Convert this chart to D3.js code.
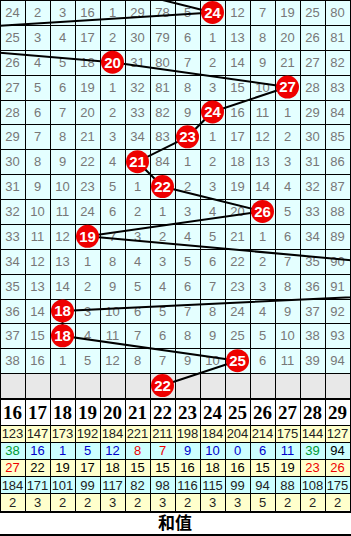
<!DOCTYPE html>
<html lang="zh">
  <head>
    <meta charset="utf-8"/>
    <script src="https://d3js.org/d3.v7.min.js"></script>
    <style>
      body { margin: 0; background: #fff; }
      .omit { fill: #777; font: 13px "Liberation Sans", sans-serif; text-anchor: middle; }
      .ball text { fill: #fff; font: bold 15px "Liberation Sans", sans-serif; text-anchor: middle; }
      .head { fill: #000; font: bold 19px "Liberation Serif", serif; text-anchor: middle; }
      .stat { font: 13px "Liberation Sans", sans-serif; text-anchor: middle; }
      .title { fill: #000; font: bold 17px "Noto Sans CJK SC", sans-serif; text-anchor: middle; }
    </style>
  </head>
  <body>
    <svg class="chart"></svg>
  </body>
  <script>
    // 和值 columns 16..29
    const sumValues = [16, 17, 18, 19, 20, 21, 22, 23, 24, 25, 26, 27, 28, 29];

    // sum of each period, top to bottom (the row above the picture and the gray row included)
    const prevSum = 20;
    const sums = [24, 8, 20, 27, 24, 23, 21, 22, 26, 19, 30, 39, 18, 18, 25];
    const nextSum = 22;

    // omission counts shown in the grid (0 = hit, drawn as a ball)
    const omissions = [
      [24, 2, 3, 16, 1, 29, 78, 5, 0, 12, 7, 19, 25, 80],
      [25, 3, 4, 17, 2, 30, 79, 6, 1, 13, 8, 20, 26, 81],
      [26, 4, 5, 18, 0, 31, 80, 7, 2, 14, 9, 21, 27, 82],
      [27, 5, 6, 19, 1, 32, 81, 8, 3, 15, 10, 0, 28, 83],
      [28, 6, 7, 20, 2, 33, 82, 9, 0, 16, 11, 1, 29, 84],
      [29, 7, 8, 21, 3, 34, 83, 0, 1, 17, 12, 2, 30, 85],
      [30, 8, 9, 22, 4, 0, 84, 1, 2, 18, 13, 3, 31, 86],
      [31, 9, 10, 23, 5, 1, 0, 2, 3, 19, 14, 4, 32, 87],
      [32, 10, 11, 24, 6, 2, 1, 3, 4, 20, 0, 5, 33, 88],
      [33, 11, 12, 0, 7, 3, 2, 4, 5, 21, 1, 6, 34, 89],
      [34, 12, 13, 1, 8, 4, 3, 5, 6, 22, 2, 7, 35, 90],
      [35, 13, 14, 2, 9, 5, 4, 6, 7, 23, 3, 8, 36, 91],
      [36, 14, 0, 3, 10, 6, 5, 7, 8, 24, 4, 9, 37, 92],
      [37, 15, 0, 4, 11, 7, 6, 8, 9, 25, 5, 10, 38, 93],
      [38, 16, 1, 5, 12, 8, 7, 9, 10, 0, 6, 11, 39, 94]
    ];

    // statistics rows under the header
    const appearCount = [123, 147, 173, 192, 184, 221, 211, 198, 184, 204, 214, 175, 144, 127];
    const currentOmit = [38, 16, 1, 5, 12, 8, 7, 9, 10, 0, 6, 11, 39, 94];
    const currentTone = ["cold", "warm", "warm", "warm", "warm", "hot", "hot", "warm", "warm", "warm", "warm", "warm", "cold", "none"];
    const avgOmit = [27, 22, 19, 17, 18, 15, 15, 16, 18, 16, 15, 19, 23, 26];
    const avgTone = ["hot", "none", "none", "none", "none", "none", "none", "none", "none", "none", "none", "none", "hot", "hot"];
    const maxOmit = [184, 171, 101, 99, 117, 82, 98, 116, 115, 99, 94, 88, 108, 175];
    const maxStreak = [2, 3, 2, 2, 3, 2, 3, 2, 3, 3, 5, 2, 2, 2];

    const width = 351, height = 536;
    const gridBottom = 398;
    const headTop = 400, headBottom = 425;
    const statH = 17.1;
    const statBottom = headBottom + statH * 5;

    const toneColor = { cold: "#009933", warm: "#0000cc", hot: "#ee0000", none: "#000" };

    const svg = d3.select(".chart")
      .attr("width", width)
      .attr("height", height);

    const x = d3.scaleBand()
      .domain(sumValues)
      .range([0, 350]);

    // rows: -1 .. 15, row 15 is the gray empty row
    const rowIds = d3.range(16);
    const y = d3.scaleBand()
      .domain(rowIds)
      .range([0, gridBottom]);
    const rowY = function(i) { return y.step() * i + y.step() / 2; };
    const colX = function(v) { return (v - sumValues[0]) * x.step() + x.step() / 2; };

    // cell backgrounds
    svg.append("g").selectAll("rect")
      .data(rowIds)
      .enter().append("rect")
        .attr("x", 0)
        .attr("y", function(d) { return y(d); })
        .attr("width", 350)
        .attr("height", y.step())
        .attr("fill", function(d) { return d < 15 ? "#e4ffff" : "#e8e8e8"; });

    // omission numbers
    const cells = [];
    omissions.forEach(function(row, r) {
      row.forEach(function(v, c) { if (v > 0) cells.push({ r: r, c: c, v: v }); });
    });
    svg.append("g").selectAll("text")
      .data(cells)
      .enter().append("text")
        .attr("class", "omit")
        .attr("x", function(d) { return x(sumValues[d.c]) + x.bandwidth() / 2; })
        .attr("y", function(d) { return rowY(d.r); })
        .attr("dy", ".36em")
        .text(function(d) { return d.v; });

    // header + stats backgrounds
    svg.append("rect")
      .attr("x", 0).attr("y", headTop)
      .attr("width", 350).attr("height", headBottom - headTop)
      .attr("fill", "#fff");

    const statRows = [
      { vals: appearCount, bg: "#ffffcc" },
      { vals: currentOmit, bg: "#ccffff", tone: currentTone },
      { vals: avgOmit, bg: "#ffffcc", tone: avgTone },
      { vals: maxOmit, bg: "#ccffff" },
      { vals: maxStreak, bg: "#ffffcc" }
    ];

    const stat = svg.append("g").selectAll("g")
      .data(statRows)
      .enter().append("g")
        .attr("transform", function(d, i) {
          return "translate(0," + (headBottom + i * statH) + ")";
        });

    stat.append("rect")
      .attr("width", 350)
      .attr("height", statH)
      .attr("fill", function(d) { return d.bg; });

    stat.selectAll("text")
      .data(function(d) {
        return d.vals.map(function(v, i) { return { v: v, i: i, tone: d.tone ? d.tone[i] : null }; });
      })
      .enter().append("text")
        .attr("class", "stat")
        .attr("x", function(d) { return x(sumValues[d.i]) + x.bandwidth() / 2; })
        .attr("y", statH / 2)
        .attr("dy", ".36em")
        .attr("fill", function(d) { return d.tone ? toneColor[d.tone] : "#222"; })
        .text(function(d) { return d.v; });

    // header labels
    svg.append("g").selectAll("text")
      .data(sumValues)
      .enter().append("text")
        .attr("class", "head")
        .attr("x", function(d) { return x(d) + x.bandwidth() / 2; })
        .attr("y", (headTop + headBottom) / 2)
        .attr("dy", ".36em")
        .text(function(d) { return d; });

    // grid lines
    const lines = svg.append("g").attr("stroke", "#000").attr("shape-rendering", "crispEdges");
    const hLines = rowIds.map(function(i) { return Math.round(y(i)); })
      .concat([headBottom]).concat(d3.range(1, 5).map(function(i) { return Math.round(headBottom + i * statH); }));
    lines.selectAll(".h")
      .data(hLines)
      .enter().append("line")
        .attr("x1", 0).attr("x2", 351)
        .attr("y1", function(d) { return d + 0.5; })
        .attr("y2", function(d) { return d + 0.5; });
    lines.selectAll(".v")
      .data(d3.range(15))
      .enter().append("line")
        .attr("x1", function(d) { return d * x.step() + 0.5; })
        .attr("x2", function(d) { return d * x.step() + 0.5; })
        .attr("y1", 0)
        .attr("y2", Math.round(statBottom));
    // heavier rules
    [gridBottom + 1, Math.round(statBottom) + 1, 534.5].forEach(function(yy) {
      lines.append("line")
        .attr("x1", 0).attr("x2", 351)
        .attr("y1", yy).attr("y2", yy)
        .attr("stroke-width", 2);
    });

    // trend line through the balls
    const pts = [{ r: -1, v: prevSum }]
      .concat(sums.map(function(v, r) { return { r: r, v: v }; }))
      .concat([{ r: 15, v: nextSum }]);

    svg.append("clipPath").attr("id", "gridclip")
      .append("rect").attr("width", 351).attr("height", gridBottom);

    svg.append("path")
      .datum(pts)
      .attr("clip-path", "url(#gridclip)")
      .attr("fill", "none")
      .attr("stroke", "#000")
      .attr("stroke-width", 2)
      .attr("d", d3.line()
        .x(function(d) { return colX(d.v); })
        .y(function(d) { return rowY(d.r); }));

    // balls (only those inside the 16..29 range are visible)
    const ball = svg.append("g").selectAll("g")
      .data(pts.filter(function(d) { return d.r >= 0 && d.v >= 16 && d.v <= 29; }))
      .enter().append("g")
        .attr("class", "ball")
        .attr("transform", function(d) {
          return "translate(" + colX(d.v) + "," + rowY(d.r) + ")";
        });
    ball.append("circle")
      .attr("r", 11.5)
      .attr("fill", "#ee0000");
    ball.append("text")
      .attr("dy", ".36em")
      .text(function(d) { return d.v; });

    svg.append("text")
      .attr("class", "title")
      .attr("x", 175)
      .attr("y", 523)
      .attr("dy", ".36em")
      .text("和值");
  </script>
</html>
